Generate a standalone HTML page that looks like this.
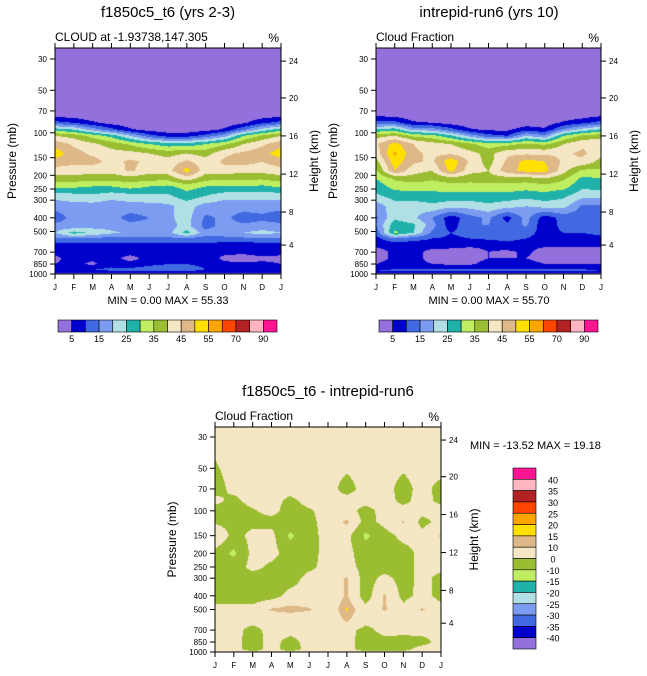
<!DOCTYPE html>
<html><head><meta charset="utf-8">
<style>
body{margin:0;background:#fff;}
#root{position:relative;width:647px;height:676px;overflow:hidden;background:#fff;font-family:"Liberation Sans",sans-serif;}
canvas{position:absolute;}
svg{position:absolute;left:0;top:0;}
</style></head>
<body>
<div id="root">
<canvas id="c1"></canvas>
<canvas id="c2"></canvas>
<canvas id="c3"></canvas>
<svg id="ov" width="647" height="676"></svg>
</div>
<script>
const months = ["J","F","M","A","M","J","J","A","S","O","N","D","J"];
const pTicks = [30,50,70,100,150,200,250,300,400,500,700,850,1000];
const hTicks = [24,20,16,12,8,4];
const hTickFrac = [0.058,0.221,0.389,0.558,0.726,0.872];
const absLevels = [5,10,15,20,25,30,35,40,45,50,55,60,70,80,90];
const absLabels = ["5","15","25","35","45","55","70","90"];
const diffLevels = [-40,-35,-30,-25,-20,-15,-10,0,10,15,20,25,30,35,40];
const diffLabels = ["40","35","30","25","20","15","10","0","-10","-15","-20","-25","-30","-35","-40"];
const colors = ["#9370db","#0000cd","#4169e1","#7b9cf0","#b0e0e6","#20b2aa","#bfef60","#9abd32","#f5e6c4","#deb887","#ffe000","#ffa500","#ff4500","#b22222","#ffb6c1","#ff1493"];

const p1Levels = [30,50,70,75,85,95,105,120,140,160,185,210,240,280,330,400,460,510,560,620,700,775,850,925,975,1000];
const p1Values = [
[0,0,0,0,0,0,0,0,0,0,0,0,0],
[0,0,0,0,0,0,0,0,0,0,0,0,0],
[0,0,0,0,0,0,0,0,0,0,0,0,0],
[3,2,1,0,0,0,0,0,0,0,1,2,3],
[12,10,6,3,1,0,0,0,0,1,4,9,12],
[28,25,18,12,6,3,2,2,3,6,14,22,28],
[40,38,33,28,20,12,8,8,12,18,30,36,40],
[48,44,41,38,34,30,27,27,30,34,40,44,48],
[53,47,44,42,42,40,38,40,38,44,46,48,53],
[48,46,47,43,46,44,42,46,42,46,47,45,48],
[43,43,42,42,46,42,43,52,42,43,42,42,43],
[38,38,37,37,38,37,37,43,37,36,36,36,38],
[31,31,30,30,32,30,29,32,30,30,30,29,31],
[22,23,24,22,23,24,24,28,25,22,22,22,22],
[17,18,18,17,18,18,19,22,18,17,17,17,17],
[12,17,17,17,13,15,19,22,14,16,13,14,12],
[17,17,18,18,17,17,18,22,13,17,16,17,17],
[20,27,24,21,19,19,18,27,17,19,20,22,20],
[14,15,14,13,13,13,14,14,13,13,14,15,14],
[8,8,9,9,9,9,9,9,9,8,7,8,8],
[6,8,7,7,7,8,7,7,7,6,6,7,6],
[4,7,6,7,3,7,7,7,7,4,3,4,4],
[5,6,4,8,7,9,10,10,9,6,6,6,5],
[8,9,10,11,11,12,12,12,10,9,8,8,8],
[6,7,8,9,9,9,9,9,8,7,6,6,6],
[2,2,2,2,2,2,2,2,2,2,2,2,2]];

const p2Levels = [30,50,70,75,85,95,105,120,140,160,185,210,240,280,330,400,450,510,560,620,700,775,850,900,950,1000];
const p2Values = [
[0,0,0,0,0,0,0,0,0,0,0,0,0],
[0,0,0,0,0,0,0,0,0,0,0,0,0],
[0,0,0,0,0,0,0,0,0,0,0,0,0],
[4,3,1,0,0,0,0,0,0,0,1,2,4],
[12,12,6,5,3,1,0,0,2,2,6,9,12],
[26,28,18,18,12,6,4,4,8,6,16,22,26],
[38,40,34,32,26,18,12,10,20,16,30,36,38],
[44,52,45,42,40,36,32,33,36,34,40,44,44],
[42,56,46,44,44,42,38,44,44,44,44,46,42],
[38,53,46,44,54,44,38,46,52,50,44,44,38],
[34,50,42,40,52,42,40,48,52,52,42,34,34],
[30,36,38,36,38,37,38,38,38,40,36,29,30],
[27,32,32,32,33,33,33,33,32,33,32,26,27],
[24,27,28,28,28,28,28,28,27,28,26,22,22],
[17,23,22,24,22,22,24,22,20,22,22,14,14],
[14,24,21,15,7,13,16,8,17,7,12,12,14],
[15,28,26,17,7,15,15,11,16,6,12,12,15],
[12,31,25,14,10,12,13,12,12,8,10,10,12],
[8,15,12,10,9,10,11,12,10,8,8,7,8],
[6,7,7,8,7,6,6,8,6,6,6,6,6],
[3,6,7,3,3,3,5,4,6,3,3,3,3],
[3,6,7,3,3,3,5,5,5,3,3,4,3],
[5,7,7,5,4,4,7,7,7,5,5,5,5],
[8,9,9,9,9,9,9,9,9,9,9,9,8],
[10,11,11,11,11,11,11,11,11,11,11,11,10],
[2,2,2,2,2,2,2,2,2,2,2,2,2]];

const p3Levels = [30,50,70,85,100,120,150,200,250,300,400,500,600,700,850,950,1000];
const p3Values = [
[3,3,3,3,3,3,3,3,3,3,3,3,3],
[-1,3,3,3,3,3,3,1,3,3,1,3,3],
[-3,2,3,3,3,3,3,-3,3,3,-3,3,-3],
[2,-2,3,3,-2,3,3,3,3,3,-2,3,-2],
[-3,-4,-1,3,-4,-1,3,3,-3,3,3,3,3],
[-2,-4,-3,-3,-5,-2,3,12,-4,3,11,-3,3],
[11,-4,3,3,-12,-3,3,3,-12,-4,3,3,11],
[-4,-12,3,3,-4,-3,3,3,-5,-5,-4,3,3],
[-4,-5,3,-2,-5,-2,3,3,-3,-5,-4,3,3],
[-5,-5,-5,-5,-4,3,3,11,-5,3,-4,3,-3],
[-4,-5,-5,-4,3,3,3,11,-5,11,-3,3,-3],
[3,3,3,11,13,11,3,16,3,11,3,11,3],
[3,3,3,3,3,3,3,11,3,3,3,3,3],
[3,3,-3,3,3,3,3,3,-3,3,3,3,3],
[3,3,-4,3,-3,3,3,3,-4,-3,-4,-3,3],
[3,3,-4,3,-4,3,3,3,-4,-3,-3,3,3],
[2,2,2,2,2,2,2,2,2,2,2,2,2]];

const DEC = 141.2;
function hexRGB(h){return [parseInt(h.substr(1,2),16),parseInt(h.substr(3,2),16),parseInt(h.substr(5,2),16)];}
const rgb = colors.map(hexRGB);
function drawField(id, P, levels, vals, bounds){
  const c = document.getElementById(id);
  c.width=P.w; c.height=P.h; c.style.left=P.x+'px'; c.style.top=P.y+'px';
  const ctx=c.getContext('2d'); const img=ctx.createImageData(P.w,P.h);
  const lp = levels.map(Math.log10);
  for(let y=0;y<P.h;y++){
    const L = 3 - (P.h - (y+0.5))/DEC;
    let k=0; while(k<lp.length-2 && lp[k+1]<L) k++;
    let t=(L-lp[k])/(lp[k+1]-lp[k]); t=Math.max(0,Math.min(1,t));
    for(let x=0;x<P.w;x++){
      const m=(x+0.5)/P.w*12; const j=Math.min(11,Math.floor(m)); const s=m-j;
      const a=vals[k][j]*(1-s)+vals[k][j+1]*s;
      const b=vals[k+1][j]*(1-s)+vals[k+1][j+1]*s;
      const v=a*(1-t)+b*t;
      let ci=0; while(ci<bounds.length && v>=bounds[ci]) ci++;
      const col=rgb[ci]; const o=(y*P.w+x)*4;
      img.data[o]=col[0];img.data[o+1]=col[1];img.data[o+2]=col[2];img.data[o+3]=255;
    }
  }
  ctx.putImageData(img,0,0);
}
const P1={x:55,y:48,w:226,h:226}, P2={x:376,y:48,w:225,h:226}, P3={x:215,y:427,w:226,h:225};
drawField('c1',P1,p1Levels,p1Values,absLevels);
drawField('c2',P2,p2Levels,p2Values,absLevels);
drawField('c3',P3,p3Levels,p3Values,diffLevels);

const NS='http://www.w3.org/2000/svg'; const ov=document.getElementById('ov');
function el(tag,attrs,txt){const e=document.createElementNS(NS,tag);for(const k in attrs)e.setAttribute(k,attrs[k]);if(txt!==undefined)e.textContent=txt;ov.appendChild(e);return e;}
function axes(P,pre,title,sub,titleX,titleY){
  let e=el('rect',{x:P.x,y:P.y,width:P.w,height:P.h,fill:'none',stroke:'#000','stroke-width':1});
   
  pTicks.forEach(p=>{
    const y=P.y+P.h-(3-Math.log10(p))*DEC;
    el('line',{x1:P.x-5,x2:P.x,y1:y,y2:y,stroke:'#000'});
    e=el('text',{x:P.x-8,y:y+3,'font-size':8,'text-anchor':'end'},String(p));
     
  });
  hTicks.forEach((h,i)=>{
    const y=P.y+hTickFrac[i]*P.h;
    el('line',{x1:P.x+P.w,x2:P.x+P.w+5,y1:y,y2:y,stroke:'#000'});
    e=el('text',{x:P.x+P.w+8,y:y+3,'font-size':8},String(h));
     
  });
  months.forEach((m,i)=>{
    const x=P.x+i*P.w/12;
    el('line',{x1:x,x2:x,y1:P.y+P.h,y2:P.y+P.h+5,stroke:'#000'});
    el('line',{x1:x,x2:x,y1:P.y-5,y2:P.y,stroke:'#000'});
    e=el('text',{x:x,y:P.y+P.h+16,'font-size':8,'text-anchor':'middle'},m);
     
  });
  const cy=P.y+P.h/2;
  e=el('text',{x:0,y:0,'font-size':12,'text-anchor':'middle',transform:`translate(${P.x-39},${cy}) rotate(-90)`},'Pressure (mb)');
   
  e=el('text',{x:0,y:0,'font-size':12,'text-anchor':'middle',transform:`translate(${P.x+P.w+37},${cy}) rotate(-90)`},'Height (km)');
   
  e=el('text',{x:titleX,y:titleY,'font-size':15,'text-anchor':'middle'},title);
   
  e=el('text',{x:P.x,y:P.y-7,'font-size':12},sub);
   
  e=el('text',{x:P.x+P.w-2,y:P.y-6,'font-size':12,'text-anchor':'end'},'%');
   
}
axes(P1,'left','f1850c5_t6 (yrs 2-3)','CLOUD at -1.93738,147.305',168,17);
axes(P2,'right','intrepid-run6 (yrs 10)','Cloud Fraction',489,17);
axes(P3,'diff','f1850c5_t6 - intrepid-run6','Cloud Fraction',328,396);
let t=el('text',{x:168,y:304,'font-size':11,'text-anchor':'middle'},'MIN =   0.00 MAX =  55.33');
 
t=el('text',{x:489,y:304,'font-size':11,'text-anchor':'middle'},'MIN =   0.00 MAX =  55.70');
 
t=el('text',{x:470,y:449,'font-size':11},'MIN = -13.52 MAX =  19.18');
 

function hbar(x0,x1,y,pre){
  const w=(x1-x0)/16;
  colors.forEach((c,i)=>{
    const r=el('rect',{x:x0+i*w,y:y,width:w,height:12,fill:c,stroke:'#000','stroke-width':0.6});
     
  });
  absLabels.forEach((l,i)=>{
    const r=el('text',{x:x0+(2*i+1)*w,y:y+22,'font-size':9,'text-anchor':'middle'},l);
     
  });
}
hbar(58,277,320,'left'); hbar(379,598,320,'right');
(function(){
  const x=513,y0=468,h=(649-468)/16;
  for(let i=0;i<16;i++){
    const r=el('rect',{x:x,y:y0+i*h,width:23,height:h,fill:colors[15-i],stroke:'#000','stroke-width':0.6});
     
  }
  diffLabels.forEach((l,i)=>{
    const r=el('text',{x:553,y:y0+(i+1)*h+4,'font-size':9,'text-anchor':'middle'},l);
     
  });
})();
</script>
</body></html>
